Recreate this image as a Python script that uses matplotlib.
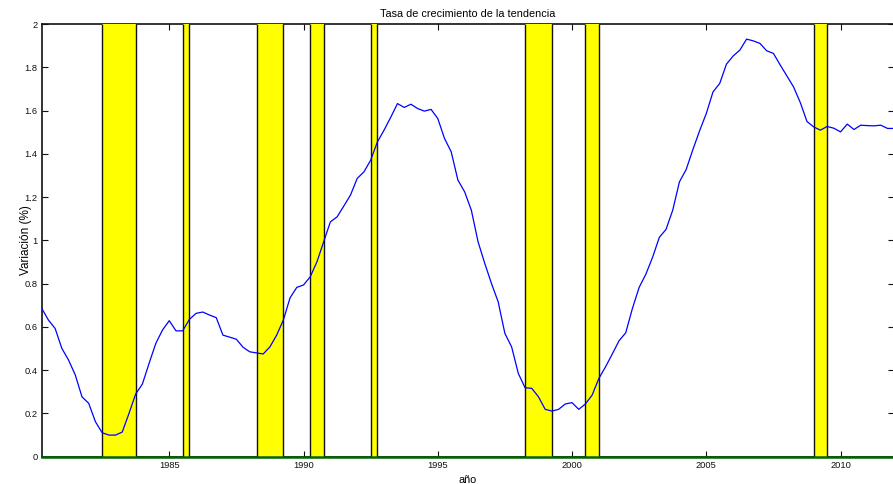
import numpy as np
import matplotlib
matplotlib.use("Agg")
import matplotlib.pyplot as plt

plt.rcParams['font.family'] = ['Liberation Sans', 'DejaVu Sans']

# Quarterly data, 1980Q2 .. 2012Q1
start_year = 1980.25
trend_growth = [
    0.686, 0.632, 0.593, 0.501, 0.447, 0.378, 0.277, 0.247, 0.162, 0.111,
    0.100, 0.100, 0.114, 0.200, 0.290, 0.336, 0.432, 0.524, 0.586, 0.629,
    0.582, 0.582, 0.635, 0.663, 0.669, 0.655, 0.643, 0.562, 0.553, 0.543,
    0.506, 0.485, 0.480, 0.475, 0.508, 0.562, 0.632, 0.735, 0.783, 0.794,
    0.832, 0.901, 0.994, 1.086, 1.109, 1.159, 1.210, 1.287, 1.317, 1.371,
    1.455, 1.510, 1.570, 1.633, 1.615, 1.630, 1.610, 1.598, 1.606, 1.564,
    1.472, 1.410, 1.279, 1.225, 1.140, 0.994, 0.894, 0.801, 0.716, 0.570,
    0.508, 0.385, 0.319, 0.316, 0.277, 0.219, 0.211, 0.219, 0.244, 0.250,
    0.219, 0.244, 0.285, 0.362, 0.416, 0.475, 0.536, 0.573, 0.686, 0.783,
    0.844, 0.922, 1.014, 1.051, 1.140, 1.271, 1.328, 1.420, 1.507, 1.587,
    1.687, 1.726, 1.815, 1.853, 1.880, 1.931, 1.923, 1.911, 1.877, 1.865,
    1.812, 1.761, 1.710, 1.638, 1.550, 1.525, 1.510, 1.527, 1.519, 1.502,
    1.538, 1.513, 1.533, 1.531, 1.530, 1.533, 1.518, 1.518,
]
years = start_year + 0.25 * np.arange(len(trend_growth))

# Recession periods (start, end)
rec_start = [1982.5, 1985.5, 1988.25, 1990.25, 1992.5, 1998.25, 2000.5, 2009.0]
rec_end = [1983.75, 1985.75, 1989.25, 1990.75, 1992.75, 1999.25, 2001.0, 2009.5]

x_ticks = [1985, 1990, 1995, 2000, 2005, 2010]
y_ticks = [0, 0.2, 0.4, 0.6, 0.8, 1, 1.2, 1.4, 1.6, 1.8, 2]
y_ticklabels = ['0', '0.2', '0.4', '0.6', '0.8', '1', '1.2', '1.4', '1.6', '1.8', '2']

fig = plt.figure(figsize=(8.93, 4.84), dpi=100)
ax = fig.add_axes([0.0467, 0.0564, 0.9547, 0.8936])

for s, e in zip(rec_start, rec_end):
    ax.axvspan(s, e, facecolor='#ffff00', edgecolor='none', zorder=3)
    ax.vlines([s, e], 0, 2, colors='#111111', linewidth=1.0, zorder=3.1)

ax.plot(years, trend_growth, color='#0000ff', linewidth=0.9, zorder=4)
ax.plot([start_year, 2012.0], [0, 0], color='#006400', linewidth=1.8, zorder=5, clip_on=False)

ax.set_xlim(start_year, 2012.0)
ax.set_ylim(0, 2)
ax.set_xticks(x_ticks)
ax.set_xticklabels([str(t) for t in x_ticks])
ax.set_yticks(y_ticks)
ax.set_yticklabels(y_ticklabels)
ax.tick_params(direction='in', length=4.5, width=0.8, top=True, right=True,
               labelsize=6.7, pad=3, colors='#111111')
for sp in ax.spines.values():
    sp.set_linewidth(1.2)
    sp.set_color('#111111')

ax.set_title('Tasa de crecimiento de la tendencia', fontsize=7.8, pad=5)
ax.set_xlabel('año', fontsize=7.8, labelpad=4)
ax.set_ylabel('Variación (%)', fontsize=8.5)
ax.yaxis.set_label_coords(-0.0115, 0.5)

fig.savefig('out.png', dpi=100)
